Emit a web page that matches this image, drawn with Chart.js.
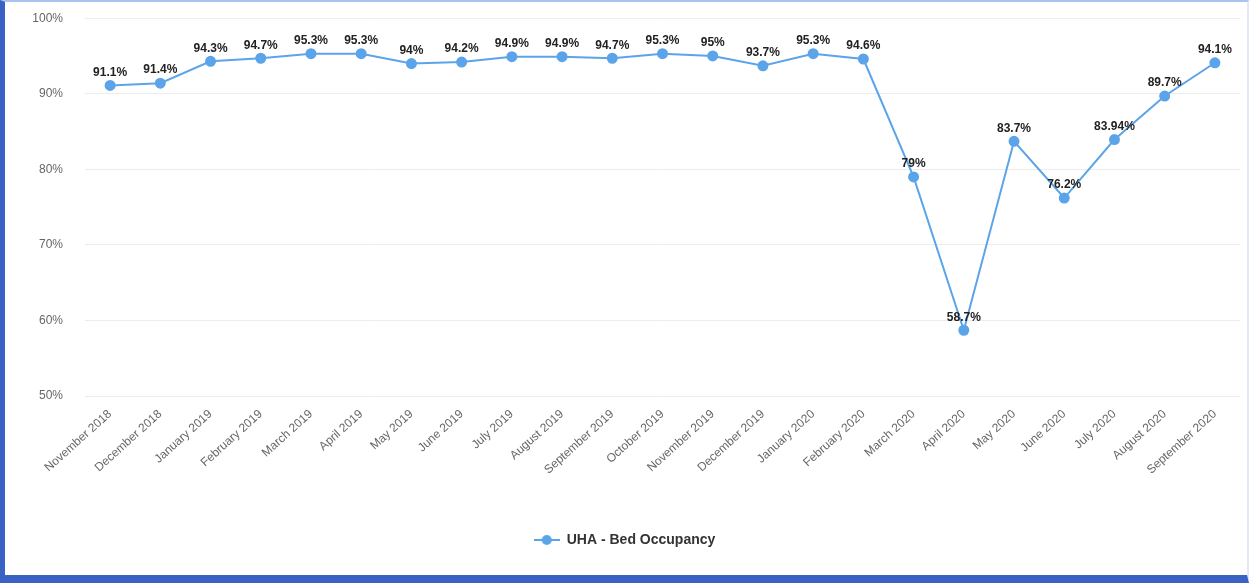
<!DOCTYPE html>
<html>
<head>
<meta charset="utf-8">
<script src="https://cdn.jsdelivr.net/npm/chart.js@4.4.1/dist/chart.umd.min.js"></script>
<style>
  html, body { margin: 0; padding: 0; background: #fff; }
  .frame {
    width: 1242px; height: 573px;
    border-left: 5px solid #3a62c4;
    border-bottom: 8px solid #3a62c4;
    border-top: 2px solid #a9c3ee;
    border-right: 2px solid #dfe9f8;
    position: relative;
    overflow: hidden;
  }
  canvas { display: block; margin-top: -13px; }
</style>
</head>
<body>
<div class="frame"><canvas id="occupancy" width="1242" height="586"></canvas></div>
<script>
// Bulan pelaporan
const months = [
    'November 2018', 'December 2018', 'January 2019', 'February 2019', 'March 2019',
    'April 2019', 'May 2019', 'June 2019', 'July 2019', 'August 2019',
    'September 2019', 'October 2019', 'November 2019', 'December 2019', 'January 2020',
    'February 2020', 'March 2020', 'April 2020', 'May 2020', 'June 2020',
    'July 2020', 'August 2020', 'September 2020'
];

// Tingkat hunian tempat tidur (%)
const bedOccupancy = [
    91.1, 91.4, 94.3, 94.7, 95.3, 95.3, 94, 94.2, 94.9, 94.9, 94.7, 95.3,
    95, 93.7, 95.3, 94.6, 79, 58.7, 83.7, 76.2, 83.94, 89.7, 94.1
];

const seriesName = 'UHA - Bed Occupancy';
const lineColor = '#5ba4ea';
const fontFamily = '"Liberation Sans", Arial, sans-serif';

// Ikon legend: garis dengan titik di tengah
function legendIcon() {
    const c = document.createElement('canvas');
    c.width = 26; c.height = 12;
    const g = c.getContext('2d');
    g.strokeStyle = lineColor;
    g.lineWidth = 2;
    g.beginPath(); g.moveTo(0, 6); g.lineTo(26, 6); g.stroke();
    g.fillStyle = lineColor;
    g.beginPath(); g.arc(13, 6, 5, 0, Math.PI * 2); g.fill();
    return c;
}

// Plugin sederhana untuk label nilai di atas titik
const valueLabels = {
    id: 'valueLabels',
    afterDatasetsDraw(chart) {
        const ctx = chart.ctx;
        const meta = chart.getDatasetMeta(0);
        ctx.save();
        ctx.font = 'bold 12px ' + fontFamily;
        ctx.fillStyle = '#222';
        ctx.textAlign = 'center';
        ctx.textBaseline = 'bottom';
        meta.data.forEach((pt, i) => {
            ctx.fillText(bedOccupancy[i] + '%', pt.x, pt.y - 7);
        });
        ctx.restore();
    }
};

const icon = legendIcon();

new Chart(document.getElementById('occupancy'), {
    type: 'line',
    data: {
        labels: months,
        datasets: [{
            label: seriesName,
            data: bedOccupancy,
            borderColor: lineColor,
            backgroundColor: lineColor,
            borderWidth: 2,
            pointRadius: 4.5,
            pointHoverRadius: 5,
            tension: 0,
            fill: false,
        }],
    },
    options: {
        responsive: false,
        animation: false,
        layout: { padding: { top: 8, right: 3, bottom: 18, left: 0 } },
        plugins: {
            legend: {
                position: 'bottom',
                labels: {
                    usePointStyle: true,
                    pointStyleWidth: 26,
                    padding: 10,
                    color: '#333',
                    font: { family: fontFamily, size: 14, weight: 'bold' },
                    generateLabels(chart) {
                        return [{
                            text: seriesName,
                            pointStyle: icon,
                            fillStyle: lineColor,
                            strokeStyle: lineColor,
                            lineWidth: 0,
                            datasetIndex: 0,
                            fontColor: '#333',
                        }];
                    },
                },
            },
            tooltip: { enabled: false },
        },
        scales: {
            x: {
                offset: true,
                grid: { display: false },
                border: { display: false },
                ticks: {
                    color: '#666',
                    font: { family: fontFamily, size: 12 },
                    minRotation: 42,
                    maxRotation: 42,
                    autoSkip: false,
                },
                afterFit(scale) { scale.height = 127; },
            },
            y: {
                min: 50,
                max: 100,
                ticks: {
                    stepSize: 10,
                    color: '#666',
                    font: { family: fontFamily, size: 12 },
                    padding: 22,
                    callback: v => v + '%',
                },
                grid: { color: '#ececec', drawTicks: false },
                border: { display: false },
                afterFit(scale) { scale.width = 80; },
            },
        },
    },
    plugins: [valueLabels],
});
</script>
</body>
</html>
